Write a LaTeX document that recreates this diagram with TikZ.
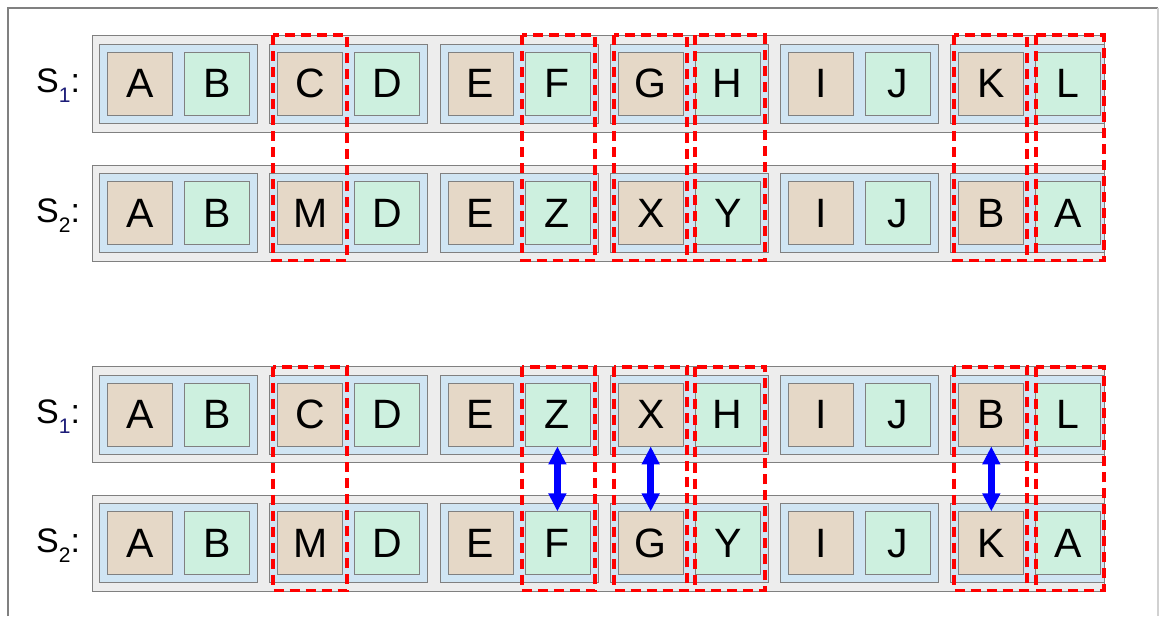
\documentclass[tikz,border=0pt]{standalone}
\usepackage{fontspec}
\setmainfont{Liberation Sans}
\usetikzlibrary{arrows.meta}
\definecolor{rowgray}{HTML}{EDEDED}
\definecolor{grpblue}{HTML}{D0E5F3}
\definecolor{tanc}{HTML}{E5D8C7}
\definecolor{greenc}{HTML}{CDF0DF}
\definecolor{edgegray}{HTML}{808080}
\definecolor{subnavy}{HTML}{1C1C78}
\begin{document}
\begin{tikzpicture}[x=1pt,y=-1pt,
 rowbox/.style={draw=edgegray,fill=rowgray,line width=0.8pt},
 grpbox/.style={draw=edgegray,fill=grpblue,line width=0.8pt},
 cell/.style={draw=edgegray,line width=0.8pt,minimum width=65pt,minimum height=63pt,inner sep=0pt,font=\fontsize{41}{41}\selectfont},
 tancell/.style={cell,fill=tanc},
 greencell/.style={cell,fill=greenc},
 pairbox/.style={draw=red,line width=3.8pt,dash pattern=on 10pt off 6pt},
 swaparrow/.style={draw=blue,line width=6.5pt,{Triangle[length=18pt,width=17pt]}-{Triangle[length=18pt,width=17pt]}},
 lab/.style={anchor=base west,inner sep=0pt,font=\fontsize{34}{34}\selectfont}]
\useasboundingbox (0,0) rectangle (1159,616);
\fill[white] (0,0) rectangle (1159,616);
% frame
\draw[line width=2pt,color=edgegray] (8,616) -- (8,7.5) -- (1158,7.5);
\draw[line width=1.5pt,color=black!18] (1158,7.5) -- (1158,616);
% rows
\foreach \r/\cy/\lst in {1/83.8/{A,B,C,D,E,F,G,H,I,J,K,L},2/213.3/{A,B,M,D,E,Z,X,Y,I,J,B,A},3/414.5/{A,B,C,D,E,Z,X,H,I,J,B,L},4/543.3/{A,B,M,D,E,F,G,Y,I,J,K,A}}{
  \draw[rowbox] (92,{\cy-48.3}) rectangle (1104,{\cy+48.3});
  \foreach \g in {0,...,5}{
    \pgfmathsetmacro\gx{99.3+170.3*\g}
    \pgfmathsetmacro\gr{min(\gx+158,1104)}
    \draw[grpbox] (\gx,{\cy-39.5}) rectangle (\gr,{\cy+39.5});
  }
  \foreach \l [count=\i] in \lst {
    \pgfmathsetmacro\bx{99.3+170.3*int((\i-1)/2)+40.5+77*mod(\i-1,2)}
    \ifodd\i\relax
      \node[tancell] (r\r b\i) at (\bx,\cy) {\l};
    \else
      \node[greencell] (r\r b\i) at (\bx,\cy) {\l};
    \fi
  }
}
% labels
\node[lab] (s1top) at (36,92) {S\raisebox{-10pt}{\fontsize{21}{21}\selectfont\color{subnavy}1}:};
\node[lab] (s2top) at (36,222) {S\raisebox{-10pt}{\fontsize{21}{21}\selectfont 2}:};
\node[lab] (s1bot) at (36,423) {S\raisebox{-10pt}{\fontsize{21}{21}\selectfont\color{subnavy}1}:};
\node[lab] (s2bot) at (36,552) {S\raisebox{-10pt}{\fontsize{21}{21}\selectfont 2}:};
% red dashed pair boxes
\foreach \xa/\xb in {273.3/346.7,521.7/595,614.3/687.3,695/765,954.3/1027.3,1036/1104}{
  \draw[pairbox] (\xa,35.3) rectangle (\xb,260.5);
  \draw[pairbox] (\xa,366.7) rectangle (\xb,590.5);
}
% swap arrows
\draw[swaparrow] (r3b6.south) -- (r4b6.north);
\draw[swaparrow] (r3b7.south) -- (r4b7.north);
\draw[swaparrow] (r3b11.south) -- (r4b11.north);
\end{tikzpicture}
\end{document}
